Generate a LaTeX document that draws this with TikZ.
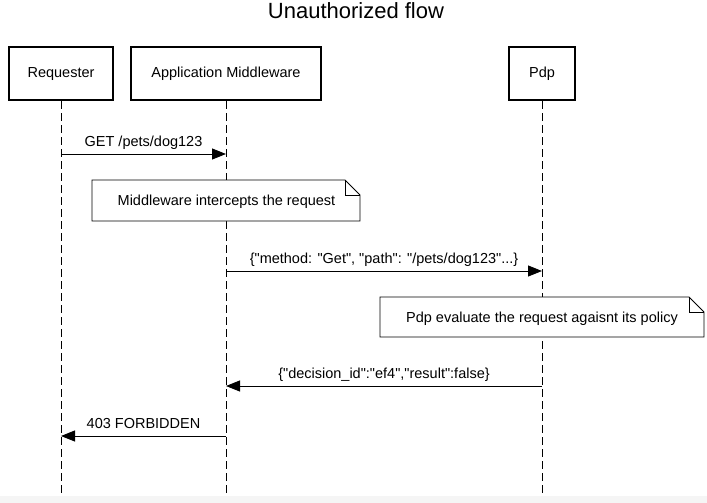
\documentclass[tikz,border=0pt]{standalone}
\usepackage{fontspec}
\setmainfont{Liberation Sans}
\usetikzlibrary{arrows.meta}
\newcommand{\dq}{\textquotedbl}
\tikzset{
	actor/.style={draw, line width=2pt, minimum height=53pt, inner sep=0pt,
		text height=10.4pt, text depth=2.6pt, font=\fontsize{14.5}{17}\selectfont},
	lifeline/.style={line width=0.9pt, dash pattern=on 8pt off 4pt},
	msg/.style={->, line width=0.9pt},
	msglabel/.style={midway, anchor=base, yshift=7.5pt, inner sep=0pt, font=\fontsize{14.5}{17}\selectfont},
	note/.style={draw, fill=white, line width=0.9pt},
	notetext/.style={anchor=base, inner sep=0pt, font=\fontsize{14.5}{17}\selectfont}
}
\begin{document}
\begin{tikzpicture}[x=1pt, y=-1pt, >={Triangle[length=14pt,width=11pt]}]
		\useasboundingbox (0,0) rectangle (707,503);
		\fill [black!4] (0,496) rectangle (707,503);
		% Titolo
		\node [anchor=base, inner sep=0pt, font=\fontsize{22}{26}\selectfont] (title) at (356,19) {Unauthorized flow};
		% Partecipanti
		\node [actor, minimum width=104pt] (req) at (61,73.5) {Requester};
		\node [actor, minimum width=190pt] (mid) at (226,73.5) {Application Middleware};
		\node [actor, minimum width=66pt] (pdp) at (542,73.5) {Pdp};
		\coordinate (reqend) at (61,496);
		\coordinate (midend) at (226,496);
		\coordinate (pdpend) at (542,496);
		\draw [lifeline] (req.south) -- (reqend);
		\draw [lifeline] (mid.south) -- (midend);
		\draw [lifeline] (pdp.south) -- (pdpend);
		% Messaggi
		\draw [msg] (req |- 0,154) -- (mid |- 0,154) node [msglabel] {GET /pets/dog123};
		\draw [msg] (mid |- 0,271) -- (pdp |- 0,271) node [msglabel] {\{\dq method: \dq Get\dq, \dq path\dq: \dq/pets/dog123\dq...\}};
		\draw [msg] (pdp |- 0,386) -- (mid |- 0,386) node [msglabel] {\{\dq decision\_id\dq:\dq ef4\dq,\dq result\dq:false\}};
		\draw [msg] (mid |- 0,436) -- (req |- 0,436) node [msglabel] {403 FORBIDDEN};
		% Note
		\draw [note] (92,180) -- (345,180) -- (360,195) -- (360,221) -- (92,221) -- cycle;
		\draw [line width=0.9pt] (345,180) -- (345,195) -- (360,195);
		\node [notetext] (note1) at (226.5,205.5) {Middleware intercepts the request};
		\draw [note] (380,297) -- (689,297) -- (704,312) -- (704,337) -- (380,337) -- cycle;
		\draw [line width=0.9pt] (689,297) -- (689,312) -- (704,312);
		\node [notetext] (note2) at (542,322) {Pdp evaluate the request agaisnt its policy};
	\end{tikzpicture}
\end{document}
